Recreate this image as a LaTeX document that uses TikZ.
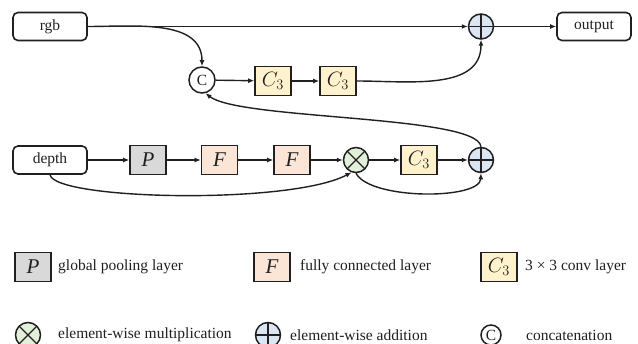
\documentclass[tikz,border=0pt]{standalone}
\usepackage{fontspec}
\setmainfont{Liberation Serif}
\usetikzlibrary{arrows.meta}
\definecolor{pgray}{HTML}{D9D9D9}
\definecolor{fpeach}{HTML}{FBE5D6}
\definecolor{cyell}{HTML}{FFF2CC}
\definecolor{mgreen}{HTML}{E2F0D9}
\definecolor{ablue}{HTML}{DCE6F2}
\definecolor{ink}{HTML}{202020}
\newcommand\lblfont{\fontsize{15.5}{18}\selectfont}
\begin{document}
\begin{tikzpicture}[x=1pt,y=1pt,
  every node/.style={text=ink},
  io/.style={draw=ink, line width=1.6pt, rounded corners=5pt, minimum width=74pt, minimum height=28pt, inner sep=0pt, font=\lblfont},
  layer/.style={draw=ink, line width=1.6pt, minimum width=36pt, minimum height=29pt, inner sep=0pt},
  pbox/.style={layer, fill=pgray, font=\fontsize{21}{24}\selectfont\itshape},
  fbox/.style={layer, fill=fpeach, font=\fontsize{21}{24}\selectfont\itshape},
  cbox/.style={layer, fill=cyell, font=\fontsize{20}{22}\selectfont},
  opc/.style={circle, draw=ink, line width=1.5pt, minimum size=25pt, inner sep=0pt},
  plusop/.style={opc, fill=ablue, path picture={\draw[ink, line width=1.4pt] (path picture bounding box.north) -- (path picture bounding box.south) (path picture bounding box.west) -- (path picture bounding box.east);}},
  timesop/.style={opc, fill=mgreen, path picture={\draw[ink, line width=1.4pt] (path picture bounding box.north west) -- (path picture bounding box.south east) (path picture bounding box.south west) -- (path picture bounding box.north east);}},
  catop/.style={opc, fill=white, font=\lblfont},
  lbl/.style={anchor=west, inner sep=0pt, font=\lblfont},
  arr/.style={-{Latex[length=6pt,width=5pt]}, line width=1.4pt, draw=ink},
]
\useasboundingbox (0,0) rectangle (638,-344);

% top row
\node[io] (rgb) at (50,-26.5) {rgb};
\node[plusop] (plusT) at (481,-26.5) {};
\node[io] (out) at (594,-26.5) {output};
\node[catop, minimum size=26pt] (cc) at (202,-80) {C};
\node[cbox] (c3a) at (273,-81) {$C_3$};
\node[cbox] (c3b) at (338,-81) {$C_3$};

% bottom row
\node[io] (depth) at (50,-160) {depth};
\node[pbox] (p) at (148,-160) {P};
\node[fbox] (f1) at (219.5,-160) {F};
\node[fbox] (f2) at (292,-160) {F};
\node[timesop] (times) at (356,-160) {};
\node[cbox] (c3c) at (419,-160) {$C_3$};
\node[plusop] (plusB) at (481,-160) {};

% connectors
\draw[arr] (rgb.east) -- (plusT.west);
\draw[arr] (rgb.east) to[out=0,in=90] (cc.north);
\draw[arr] (cc) -- (c3a);
\draw[arr] (c3a) -- (c3b);
\draw[arr] (c3b.east) to[out=0,in=-90] (plusT.south);
\draw[arr] (plusT) -- (out);

\draw[arr] (depth) -- (p);
\draw[arr] (p) -- (f1);
\draw[arr] (f1) -- (f2);
\draw[arr] (f2) -- (times);
\draw[arr] (times) -- (c3c);
\draw[arr] (c3c) -- (plusB);
\draw[arr] (depth.south) .. controls (55,-200) and (290,-205) .. (times.250);
\draw[arr] (times.south) .. controls (370,-200) and (480,-200) .. (plusB.south);
\draw[arr] (plusB.north) .. controls (478,-115) and (240,-120) .. (cc.-75);

% legend
\node[pbox] (lp) at (33,-267) {P};
\node[lbl] (lpt) at (58,-267) {global pooling layer};
\node[fbox] (lf) at (272,-267) {F};
\node[lbl] (lft) at (300,-267) {fully connected layer};
\node[cbox] (lc) at (499,-267) {$C_3$};
\node[lbl] (lct) at (525,-267) {3 × 3 conv layer};
\node[timesop] (lx) at (28,-335) {};
\node[lbl] (lxt) at (58,-335) {element-wise multiplication};
\node[plusop] (la) at (268,-335) {};
\node[lbl] (lat) at (290,-335) {element-wise addition};
\node[catop, minimum size=20pt] (lcc) at (491,-335) {C};
\node[lbl] (lcct) at (526,-335) {concatenation};
\end{tikzpicture}
\end{document}
